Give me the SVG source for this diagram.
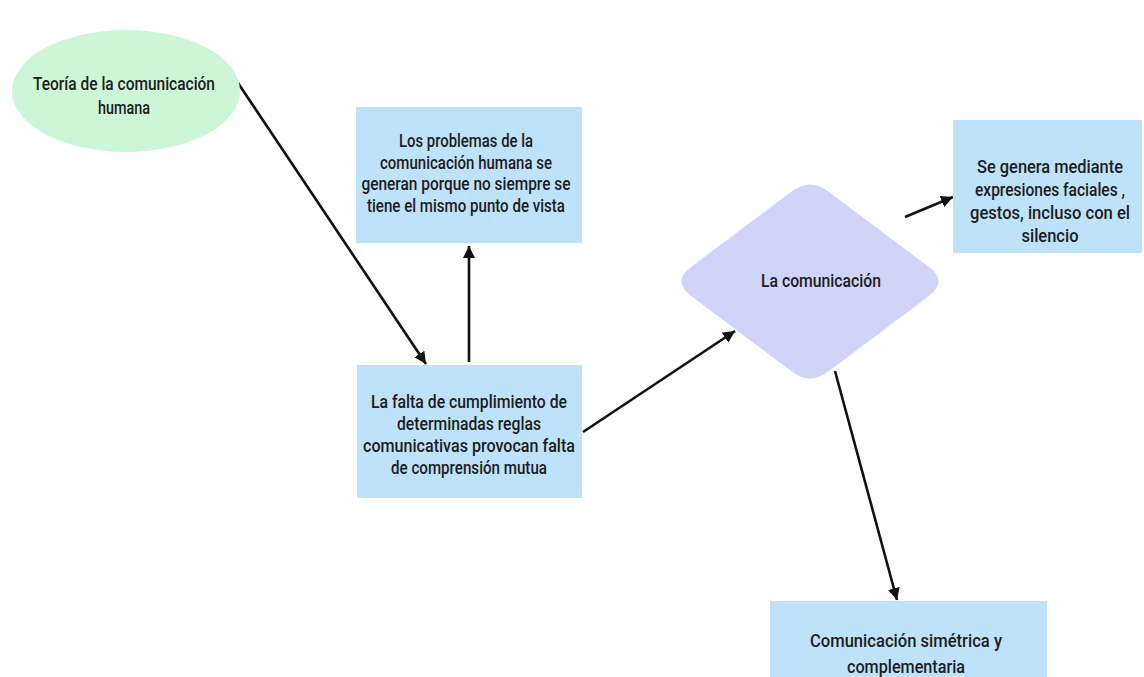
<svg xmlns="http://www.w3.org/2000/svg" width="1144" height="677" viewBox="0 0 1144 677">
<defs>
<style>
.t{font-family:Roboto,"Liberation Sans",sans-serif;font-weight:500;font-size:18px;fill:#1c1c1c;text-anchor:middle}
.box{fill:#bfe2fb}
.c{stroke:#111;stroke-width:2.6;fill:none;marker-end:url(#ah)}
</style>
<marker id="ah" markerUnits="userSpaceOnUse" markerWidth="14" markerHeight="12" refX="12" refY="6" orient="auto">
<path d="M0,0 L12,6 L0,12 Z" fill="#111"/>
</marker>
</defs>
<rect width="1144" height="677" fill="#fff"/>
<g id="connectors">
<line class="c" x1="238" y1="83" x2="426" y2="364"/>
<line class="c" x1="469" y1="362" x2="469" y2="246"/>
<line class="c" x1="583" y1="432" x2="735" y2="331"/>
<line class="c" x1="905" y1="217" x2="953" y2="197"/>
<line class="c" x1="835" y1="371" x2="897" y2="600"/>
</g>
<g id="n1">
<ellipse cx="126" cy="91" rx="114" ry="61" fill="#ccf6d6"/>
<text class="t" x="124" y="90" textLength="182" lengthAdjust="spacingAndGlyphs">Teoría de la comunicación</text>
<text class="t" x="124" y="114" textLength="52" lengthAdjust="spacingAndGlyphs">humana</text>
</g>
<g id="n2">
<rect class="box" x="356" y="107" width="226" height="136"/>
<text class="t" x="466" y="147" textLength="134" lengthAdjust="spacingAndGlyphs">Los problemas de la</text>
<text class="t" x="466" y="168.5" textLength="172" lengthAdjust="spacingAndGlyphs">comunicación humana se</text>
<text class="t" x="466" y="190" textLength="209" lengthAdjust="spacingAndGlyphs">generan porque no siempre se</text>
<text class="t" x="466" y="211.5" textLength="198" lengthAdjust="spacingAndGlyphs">tiene el mismo punto de vista</text>
</g>
<g id="n3">
<rect class="box" x="357" y="365" width="225" height="133"/>
<text class="t" x="469" y="408" textLength="196" lengthAdjust="spacingAndGlyphs">La falta de cumplimiento de</text>
<text class="t" x="469" y="430" textLength="144" lengthAdjust="spacingAndGlyphs">determinadas reglas</text>
<text class="t" x="469" y="452" textLength="212" lengthAdjust="spacingAndGlyphs">comunicativas provocan falta</text>
<text class="t" x="469" y="474" textLength="156" lengthAdjust="spacingAndGlyphs">de comprensión mutua</text>
</g>
<g id="n4">
<path d="M791,192 Q810,177 829,192 L929,267 Q948,281 929,296 L829,371 Q810,386 791,371 L691,296 Q672,281 691,267 Z" fill="#cfd4f8"/>
<text class="t" x="821" y="287" textLength="120" lengthAdjust="spacingAndGlyphs">La comunicación</text>
</g>
<g id="n5">
<rect class="box" x="953" y="120" width="189" height="133"/>
<text class="t" x="1050" y="173" textLength="146" lengthAdjust="spacingAndGlyphs">Se genera mediante</text>
<text class="t" x="1050" y="196" textLength="150" lengthAdjust="spacingAndGlyphs">expresiones faciales ,</text>
<text class="t" x="1050" y="219" textLength="160" lengthAdjust="spacingAndGlyphs">gestos,  incluso con el</text>
<text class="t" x="1050" y="242" textLength="57" lengthAdjust="spacingAndGlyphs">silencio</text>
</g>
<g id="n6">
<rect class="box" x="770" y="601" width="277" height="76"/>
<text class="t" x="906" y="647" textLength="192" lengthAdjust="spacingAndGlyphs">Comunicación simétrica y</text>
<text class="t" x="906" y="673" textLength="118" lengthAdjust="spacingAndGlyphs">complementaria</text>
</g>
</svg>
